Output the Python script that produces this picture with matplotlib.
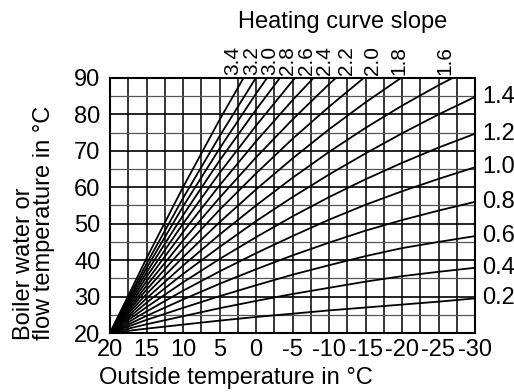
import numpy as np
import matplotlib
matplotlib.use("Agg")
import matplotlib.pyplot as plt

plt.rcParams['font.family'] = ['Liberation Sans', 'DejaVu Sans']

# outside temperatures (deg C) at which the curves were read
outside_temp = [20, 15, 10, 5, 0, -5, -10, -15, -20, -25, -30]

# heating curve slopes
slopes = [0.2, 0.4, 0.6, 0.8, 1.0, 1.2, 1.4, 1.6, 1.8,
          2.0, 2.2, 2.4, 2.6, 2.8, 3.0, 3.2, 3.4]

# flow temperature per slope, one row per curve (rows stop once past 90)
flow_temps = [
    [20, 21.2, 22.3, 23.4, 24.4, 25.3, 26.2, 27.0, 27.8, 28.6, 29.5],
    [20, 22.4, 24.6, 26.8, 28.8, 30.7, 32.4, 34.1, 35.6, 36.8, 37.9],
    [20, 23.6, 26.9, 30.1, 33.1, 36.0, 38.6, 41.1, 43.3, 45.0, 46.6],
    [20, 24.7, 29.2, 33.5, 37.5, 41.3, 44.8, 48.1, 51.0, 53.6, 56.0],
    [20, 25.9, 31.6, 36.9, 41.9, 46.6, 51.1, 55.2, 58.9, 62.3, 65.5],
    [20, 27.1, 33.9, 40.3, 46.3, 52.0, 57.3, 62.2, 66.7, 70.9, 74.7],
    [20, 28.3, 36.2, 43.6, 50.7, 57.3, 63.5, 69.3, 74.8, 80.0, 84.8],
    [20, 29.5, 38.5, 47.0, 55.0, 62.6, 69.7, 76.3, 82.4, 88.0, 93.2],
    [20, 30.7, 40.8, 50.4, 59.4, 67.9, 75.9, 83.3, 90.2],
    [20, 31.9, 43.1, 53.8, 63.8, 73.3, 82.1, 90.4],
    [20, 33.0, 45.4, 57.1, 68.2, 78.6, 88.3, 97.4],
    [20, 34.2, 47.7, 60.5, 72.6, 83.9, 94.5],
    [20, 35.4, 50.0, 63.9, 76.9, 89.2, 100.7],
    [20, 36.6, 52.3, 67.3, 81.3, 94.6],
    [20, 37.8, 54.7, 70.6, 85.7, 99.9],
    [20, 39.0, 57.0, 74.0, 90.1],
    [20, 40.5, 60.0, 78.5, 96.0],
]

x_ticks = [20, 15, 10, 5, 0, -5, -10, -15, -20, -25, -30]
y_ticks = [20, 30, 40, 50, 60, 70, 80, 90]

# where the slope labels sit above the top edge (outside temp units)
top_label_x = [-25.9, -19.6, -15.9, -12.45, -9.45, -6.85, -4.25, -1.9, 0.55, 3.15]

W, H = 514, 392
fig = plt.figure(figsize=(W / 100, H / 100), dpi=100)
ax = fig.add_axes([110 / W, (H - 333) / H, 365 / W, 255 / H])

ax.set_xlim(20, -30)
ax.set_ylim(20, 90)

# grid: every 2.5 degC across, every 5 degC up
for gx in np.arange(20, -30.1, -2.5):
    ax.axvline(gx, color='black', lw=1.1, zorder=1)
for gy in np.arange(25, 90, 5):
    major = gy % 10 == 0
    ax.axhline(gy, color='black' if major else '#555555',
               lw=1.2 if major else 0.9, zorder=1)

for s, temps in zip(slopes, flow_temps):
    ax.plot(outside_temp[:len(temps)], temps, color='black', lw=1.3,
            zorder=2, solid_capstyle='butt')

for side in ax.spines.values():
    side.set_linewidth(1.5)
    side.set_zorder(3)

ax.set_xticks(x_ticks)
ax.set_xticklabels([str(t) for t in x_ticks])
ax.set_yticks(y_ticks)
ax.tick_params(length=0, labelsize=17)
ax.tick_params(axis='x', pad=4)
ax.tick_params(axis='y', pad=7)

# slope labels along the right edge (curves that end on the -30 line)
for s, temps in zip(slopes, flow_temps):
    if len(temps) == len(outside_temp) and temps[-1] < 90:
        ax.annotate(f'{s:.1f}', xy=(-30, temps[-1]), xytext=(5, 0),
                    textcoords='offset points', ha='left', va='center',
                    fontsize=17, annotation_clip=False)

# slope labels above the top edge (curves that leave through 90)
top_slopes = [s for s, t in zip(slopes, flow_temps) if t[-1] >= 90]
for s, lx in zip(top_slopes, top_label_x):
    ax.annotate(f'{s:.1f}', xy=(lx, 90), xytext=(0, 2),
                textcoords='offset points', rotation=90,
                ha='center', va='bottom', fontsize=15, annotation_clip=False)

fig.text(343 / W, 1 - 22 / H, 'Heating curve slope', ha='center',
         va='center', fontsize=17)
fig.text(99 / W, 1 - 378 / H, 'Outside temperature in °C', ha='left',
         va='center', fontsize=17)
fig.text(34 / W, 1 - 340 / H, 'Boiler water or\nflow temperature in °C',
         rotation=90, ha='center', va='bottom', multialignment='left',
         fontsize=17, linespacing=0.92)

fig.savefig('out.png', dpi=100)
